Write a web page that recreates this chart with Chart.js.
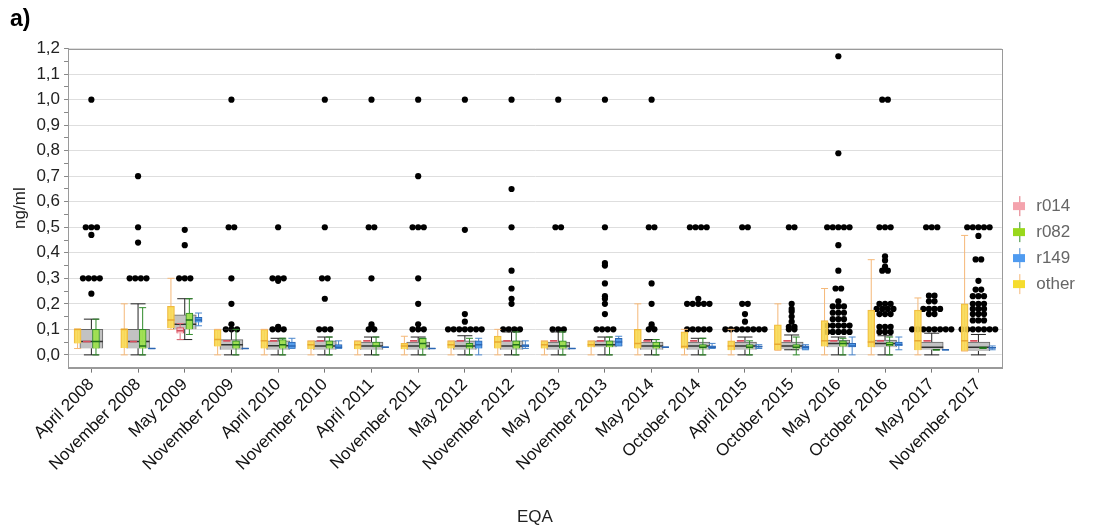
<!DOCTYPE html>
<html>
<head>
<meta charset="utf-8">
<script src="https://cdn.jsdelivr.net/npm/chart.js@4/dist/chart.umd.min.js"></script>
<style>
html,body{margin:0;padding:0;background:#fff;}
#wrap{width:1108px;height:531px;}
</style>
</head>
<body>
<div id="wrap"><canvas id="c" width="1108" height="531"></canvas></div>
<script>
/* Categories */
const EQA=['April 2008','November 2008','May 2009','November 2009','April 2010','November 2010','April 2011','November 2011','May 2012','November 2012','May 2013','November 2013','May 2014','October 2014','April 2015','October 2015','May 2016','October 2016','May 2017','November 2017'];
const yTicks=[0,0.1,0.2,0.3,0.4,0.5,0.6,0.7,0.8,0.9,1.0,1.1,1.2];

/* Box summaries per EQA: [low whisker, q1, median, q3, high whisker] */
const allLabs=[
 [0,0.025,0.052,0.10,0.14],[0,0.025,0.052,0.10,0.20],[0.06,0.10,0.12,0.157,0.22],[0,0.02,0.04,0.06,0.10],
 [0,0.02,0.036,0.055,0.065],[0,0.02,0.035,0.055,0.07],[0,0.02,0.035,0.05,0.07],[0,0.02,0.035,0.05,0.07],
 [0,0.02,0.035,0.055,0.075],[0,0.02,0.035,0.055,0.09],[0,0.02,0.035,0.05,0.09],[0,0.03,0.04,0.055,0.07],
 [0,0.02,0.035,0.05,0.06],[0,0.02,0.035,0.05,0.065],[0,0.02,0.035,0.05,0.07],[0.02,0.022,0.035,0.05,0.078],
 [0,0.03,0.045,0.058,0.07],[0,0.03,0.045,0.058,0.075],[0,0.02,0.03,0.05,0.085],[0,0.015,0.03,0.05,0.08]];
const other=[
 [0.025,0.045,0.10,0.10,0.10],[0,0.027,0.10,0.10,0.20],[0.10,0.105,0.137,0.19,0.30],[0,0.033,0.06,0.10,0.10],
 [0,0.025,0.055,0.10,0.10],[0,0.022,0.04,0.055,0.055],[0,0.022,0.04,0.055,0.055],[0,0.022,0.035,0.045,0.073],
 [0,0.025,0.04,0.055,0.055],[0,0.025,0.05,0.074,0.10],[0,0.025,0.04,0.055,0.055],[0,0.03,0.04,0.055,0.055],
 [0,0.025,0.045,0.10,0.20],[0,0.025,0.033,0.09,0.10],[0,0.018,0.035,0.055,0.10],[0.018,0.018,0.042,0.118,0.20],
 [0,0.033,0.055,0.134,0.26],[0,0.03,0.05,0.176,0.373],[0,0.018,0.055,0.176,0.223],[0.015,0.015,0.055,0.20,0.468]];
const r014=[
 [0.052,0.052,0.052,0.052,0.052],[0.052,0.052,0.052,0.052,0.052],[0.06,0.084,0.095,0.107,0.123],[0.055,0.055,0.055,0.055,0.055],
 [0.055,0.055,0.055,0.055,0.055],[0.055,0.055,0.055,0.055,0.055],[0.055,0.055,0.055,0.055,0.055],[0.055,0.055,0.055,0.055,0.055],
 [0.055,0.055,0.055,0.055,0.055],[0.055,0.055,0.055,0.055,0.055],[0.055,0.055,0.055,0.055,0.055],[0.055,0.055,0.055,0.055,0.055],
 [0.055,0.055,0.055,0.055,0.055],[0.055,0.055,0.055,0.055,0.055],[0.055,0.055,0.055,0.055,0.055],[0.055,0.055,0.055,0.055,0.055],
 [0.055,0.055,0.055,0.055,0.055],[0.055,0.055,0.055,0.055,0.055],[0.055,0.055,0.055,0.055,0.055],[0.055,0.055,0.055,0.055,0.055]];
const r082=[
 [0,0.025,0.052,0.10,0.14],[0,0.025,0.035,0.10,0.185],[0.08,0.10,0.137,0.164,0.22],[0,0.025,0.04,0.055,0.10],
 [0,0.025,0.04,0.06,0.065],[0,0.025,0.04,0.055,0.07],[0,0.03,0.035,0.05,0.07],[0,0.025,0.045,0.065,0.065],
 [0,0.025,0.035,0.045,0.065],[0,0.025,0.04,0.055,0.09],[0,0.025,0.035,0.055,0.09],[0,0.03,0.04,0.055,0.07],
 [0,0.025,0.035,0.05,0.06],[0,0.025,0.03,0.04,0.065],[0,0.025,0.03,0.04,0.055],[0,0.025,0.03,0.04,0.07],
 [0,0.033,0.045,0.055,0.065],[0,0.035,0.04,0.05,0.07],[0.02,0.02,0.02,0.02,0.02],[0.025,0.025,0.028,0.03,0.03]];
const r149=[
 null,[0.025,0.025,0.025,0.025,0.025],[0.114,0.127,0.137,0.147,0.164],[0.025,0.025,0.025,0.025,0.025],
 [0.025,0.025,0.035,0.05,0.065],[0.025,0.025,0.03,0.04,0.055],[0.03,0.03,0.03,0.03,0.03],[0.025,0.025,0.025,0.025,0.025],
 [0,0.025,0.04,0.055,0.065],[0.025,0.03,0.035,0.04,0.055],[0.025,0.025,0.025,0.025,0.025],[0.035,0.035,0.05,0.065,0.073],
 [0.03,0.03,0.03,0.03,0.03],[0.025,0.025,0.03,0.035,0.045],[0.025,0.03,0.032,0.035,0.04],[0.02,0.02,0.03,0.035,0.04],
 [0,0.03,0.035,0.045,0.07],[0.02,0.035,0.04,0.05,0.07],[0.02,0.02,0.02,0.02,0.02],[0.02,0.025,0.028,0.03,0.035]];

/* Outliers per EQA as [value, count] */
const outliers=[
 [[1.0,1],[0.5,3],[0.47,1],[0.3,4],[0.24,1]],
 [[0.7,1],[0.5,1],[0.44,1],[0.3,4]],
 [[0.49,1],[0.43,1],[0.3,3]],
 [[1.0,1],[0.5,2],[0.3,1],[0.2,1],[0.12,1],[0.1,3]],
 [[0.5,1],[0.3,3],[0.29,1],[0.11,1],[0.1,3]],
 [[1.0,1],[0.5,1],[0.3,2],[0.22,1],[0.1,3]],
 [[1.0,1],[0.5,2],[0.3,1],[0.12,1],[0.11,1],[0.1,2]],
 [[1.0,1],[0.7,1],[0.5,3],[0.3,1],[0.2,1],[0.12,1],[0.1,3]],
 [[1.0,1],[0.49,1],[0.16,1],[0.13,1],[0.1,7]],
 [[1.0,1],[0.65,1],[0.5,1],[0.33,1],[0.26,1],[0.22,1],[0.2,1],[0.1,4]],
 [[1.0,1],[0.5,2],[0.1,3]],
 [[1.0,1],[0.5,1],[0.36,1],[0.35,1],[0.28,1],[0.23,1],[0.22,1],[0.2,1],[0.16,1],[0.1,4]],
 [[1.0,1],[0.5,2],[0.28,1],[0.2,1],[0.12,1],[0.11,1],[0.1,2]],
 [[0.5,4],[0.22,1],[0.2,5],[0.1,5]],
 [[0.5,2],[0.2,2],[0.16,1],[0.13,1],[0.1,8]],
 [[0.5,2],[0.2,1],[0.18,1],[0.17,1],[0.15,1],[0.13,1],[0.11,2],[0.1,2]],
 [[1.17,1],[0.79,1],[0.5,5],[0.43,1],[0.33,1],[0.26,2],[0.21,1],[0.19,3],[0.165,3],[0.14,3],[0.115,5],[0.09,5]],
 [[1.0,2],[0.5,3],[0.386,1],[0.37,1],[0.346,1],[0.33,2],[0.2,3],[0.18,4],[0.16,3],[0.11,3],[0.09,3]],
 [[0.5,3],[0.232,2],[0.21,2],[0.18,4],[0.16,2],[0.1,8]],
 [[0.5,5],[0.466,1],[0.374,2],[0.29,1],[0.256,2],[0.23,3],[0.2,3],[0.18,3],[0.16,3],[0.135,3],[0.1,7]]];

/* Styling */
const FONT='"Liberation Sans", Arial, sans-serif';
const STEP=0.197;
const series=[
 {name:'r014',data:r014,slot:-0.5,fill:'rgba(247,190,198,0.95)',line:'#d8505f',med:'#d8505f',whisk:'#e0707c',key:'#f4a3ad'},
 {name:'r082',data:r082,slot:0.5,fill:'rgba(160,226,80,0.95)',line:'#2f8a2a',med:'#1f6f1a',whisk:'#2f8a2a',key:'#99d81c'},
 {name:'r149',data:r149,slot:1.5,fill:'rgba(80,155,235,0.95)',line:'#2b66b3',med:'#2b66b3',whisk:'#4a86cc',key:'#4f9bf0'},
 {name:'other',data:other,slot:-1.5,fill:'rgba(248,216,80,0.88)',line:'#efb840',med:'#e8a830',whisk:'#f5b878',key:'#f5dc2e'}
];

/* Box plot pieces as plain datasets */
function boxSets(stats,shift,st,order){
  const whisk=[],box=[],caps=[],meds=[];
  stats.forEach((s,i)=>{
    if(!s) return;
    const x=i+shift;
    const [lo,q1,med,q3,hi]=s;
    whisk.push({x,y:lo},{x,y:hi},{x,y:null});
    box.push({x,y:[q1,q3]});
    caps.push({x,y:lo},{x,y:hi});
    meds.push({x,y:med});
  });
  return [
    {type:'line',data:whisk,borderColor:st.whisk,borderWidth:1,pointRadius:0,spanGaps:false,order:order+3},
    {type:'bar',data:box,backgroundColor:st.fill,borderColor:st.line,borderWidth:1,barThickness:st.w,grouped:false,order:order+2},
    {type:'scatter',data:caps,pointStyle:'line',pointRadius:st.cap,pointHoverRadius:st.cap,borderColor:st.whisk,borderWidth:1,order:order+1},
    {type:'scatter',data:meds,pointStyle:'line',pointRadius:st.w/2,pointHoverRadius:st.w/2,borderColor:st.med,borderWidth:1.5,order:order}
  ];
}
function swarm(){
  const pts=[];
  outliers.forEach((rows,i)=>rows.forEach(([v,n])=>{
    for(let j=0;j<n;j++) pts.push({x:i+(j-(n-1)/2)*0.12,y:v});
  }));
  return pts;
}
function keyIcon(st){
  const c=document.createElement('canvas');c.width=12;c.height=22;
  const g=c.getContext('2d');
  g.strokeStyle=st.whisk;g.lineWidth=1;
  g.beginPath();g.moveTo(6.5,1);g.lineTo(6.5,21);g.stroke();
  g.fillStyle=st.key;g.fillRect(0,7,12,8);
  return c;
}

const datasets=[];
datasets.push({type:'scatter',data:swarm(),pointRadius:3.1,pointHoverRadius:3.1,backgroundColor:'#000',borderWidth:0,order:60});
datasets.push(...boxSets(allLabs,0,{fill:'#c2c2c2',line:'#666',med:'#333',whisk:'#222',w:23,cap:7.5},40));
series.forEach((s,k)=>datasets.push(...boxSets(s.data,s.slot*STEP,{fill:s.fill,line:s.line,med:s.med,whisk:s.whisk,w:7,cap:3.5},k*4)));
const icons=series.map(keyIcon);

/* Frame around the plot */
const frame={id:'frame',afterDraw(chart){
  const a=chart.chartArea,ctx=chart.ctx;
  ctx.save();ctx.strokeStyle='#9a9a9a';ctx.lineWidth=1;
  ctx.strokeRect(Math.round(a.left)+0.5,Math.round(a.top)+0.5,Math.round(a.right-a.left),Math.round(a.bottom-a.top));
  ctx.restore();
}};

new Chart(document.getElementById('c'),{
  type:'bar',
  data:{datasets},
  plugins:[frame],
  options:{
    responsive:false,animation:false,
    layout:{padding:{left:10,right:23,top:2,bottom:2}},
    plugins:{
      title:{display:true,text:'a)',align:'start',color:'#000',font:{family:FONT,size:23,weight:'bold'},padding:{top:4,bottom:15}},
      tooltip:{enabled:false},
      legend:{position:'right',fullSize:false,
        title:{display:true,text:'',font:{size:10},padding:{top:31,bottom:31}},
        labels:{usePointStyle:true,color:'#222',font:{family:FONT,size:17},padding:9,
          generateLabels:()=>series.map((s,k)=>({text:s.name,pointStyle:icons[k],fillStyle:s.key,strokeStyle:s.key,lineWidth:0,hidden:false,datasetIndex:-1}))},
        onClick:null}
    },
    scales:{
      x:{type:'linear',min:-0.5,max:19.5,offset:false,
        afterBuildTicks:sc=>{sc.ticks=EQA.map((_,i)=>({value:i}));},
        ticks:{autoSkip:false,minRotation:45,maxRotation:45,color:'#111',font:{family:FONT,size:17},padding:2,callback:v=>EQA[v]},
        grid:{display:true,drawOnChartArea:false,tickLength:5,color:'#777',offset:false},
        border:{color:'#9a9a9a'},
        title:{display:true,text:'EQA',color:'#222',font:{family:FONT,size:17},padding:{top:31,bottom:1}}},
      y:{min:-0.05,max:1.2,
        afterBuildTicks:sc=>{const t=[];yTicks.forEach((v,i)=>{t.push({value:v});if(i<yTicks.length-1)t.push({value:v+0.05,minor:true});});sc.ticks=t;},
        ticks:{autoSkip:false,color:'#222',font:{family:FONT,size:17},padding:4,
          callback:function(v,i,ticks){return ticks[i].minor?'':v.toFixed(1).replace('.',',');}},
        grid:{color:c=>c.tick&&c.tick.minor?'rgba(0,0,0,0)':'#dedede',tickColor:'#888',tickLength:4},
        border:{color:'#9a9a9a'},
        title:{display:true,text:'ng/ml',color:'#222',font:{family:FONT,size:17},padding:{top:0,bottom:2}}}
    }
  }
});
</script>
</body>
</html>
